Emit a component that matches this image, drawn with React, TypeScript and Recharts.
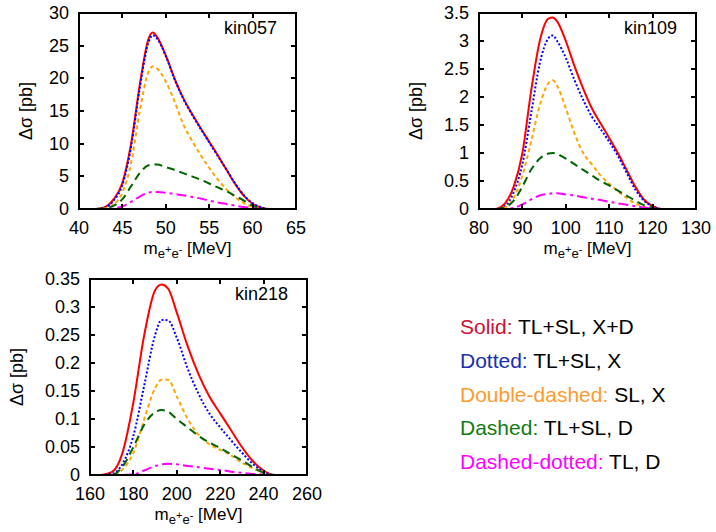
import React from "react";
import { LineChart, Line, XAxis, YAxis } from "recharts";

// kin057
const x057 = [42, 43, 44, 45, 46, 47, 48, 48.5, 49, 50, 51, 52, 53, 54, 55, 56, 57, 58, 59, 60, 61, 62, 63];
const solid057 = [0, 0.3, 1.5, 4, 10, 19, 26, 27, 26.3, 23.5, 20, 17, 14.6, 12.4, 10.3, 8.2, 6, 3.8, 2, 0.8, 0.2, 0, 0];
const dotted057 = [0, 0.25, 1.3, 3.7, 9.5, 18.5, 25.5, 26.6, 26.1, 23.4, 19.9, 16.9, 14.5, 12.3, 10.2, 8.1, 6, 3.9, 2.1, 0.9, 0.25, 0, 0];
const ddash057 = [0, 0.1, 0.7, 2.5, 7, 15, 21, 21.8, 21.5, 19.5, 16.5, 13, 10.5, 8.3, 6.3, 4.5, 3, 1.8, 0.9, 0.3, 0, 0, 0];
const dashed057 = [0, 0.1, 0.5, 1.5, 3.5, 5.5, 6.7, 6.8, 6.8, 6.4, 6, 5.5, 5, 4.5, 3.9, 3.3, 2.7, 2, 1.3, 0.5, 0.1, 0, 0];
const dashdot057 = [0, 0, 0.1, 0.4, 1.1, 1.9, 2.5, 2.6, 2.6, 2.5, 2.3, 2.1, 1.85, 1.6, 1.3, 1.0, 0.75, 0.5, 0.3, 0.15, 0, 0, 0];

// kin109
const x109 = [84, 86, 88, 90, 92, 94, 96, 97, 98, 100, 102, 104, 106, 108, 110, 112, 114, 116, 118, 120, 122, 124, 126];
const solid109 = [0, 0.1, 0.4, 1.0, 2.1, 3.0, 3.4, 3.42, 3.35, 3.0, 2.55, 2.15, 1.8, 1.53, 1.27, 1.0, 0.7, 0.4, 0.17, 0.05, 0, 0, 0];
const dotted109 = [0, 0.05, 0.3, 0.8, 1.7, 2.6, 3.05, 3.1, 3.0, 2.7, 2.3, 1.95, 1.65, 1.43, 1.2, 0.95, 0.65, 0.35, 0.15, 0.05, 0, 0, 0];
const ddash109 = [0, 0.03, 0.2, 0.6, 1.2, 1.85, 2.25, 2.3, 2.2, 1.8, 1.35, 1.0, 0.8, 0.6, 0.45, 0.32, 0.2, 0.1, 0.04, 0, 0, 0, 0];
const dashed109 = [0, 0.03, 0.15, 0.4, 0.7, 0.9, 0.99, 1.0, 0.98, 0.9, 0.8, 0.7, 0.6, 0.5, 0.42, 0.33, 0.24, 0.15, 0.07, 0.02, 0, 0, 0];
const dashdot109 = [0, 0, 0.02, 0.08, 0.17, 0.24, 0.27, 0.28, 0.28, 0.26, 0.24, 0.21, 0.185, 0.16, 0.13, 0.1, 0.075, 0.05, 0.025, 0.01, 0, 0, 0];

// kin218
const x218 = [165, 170, 175, 180, 185, 190, 193, 196, 200, 205, 210, 215, 220, 225, 230, 235, 240, 245, 250];
const solid218 = [0, 0.005, 0.04, 0.13, 0.25, 0.33, 0.34, 0.333, 0.29, 0.23, 0.18, 0.14, 0.11, 0.08, 0.05, 0.025, 0.008, 0, 0];
const dotted218 = [0, 0.002, 0.02, 0.07, 0.16, 0.25, 0.277, 0.276, 0.245, 0.19, 0.145, 0.11, 0.085, 0.062, 0.04, 0.02, 0.006, 0, 0];
const ddash218 = [0, 0, 0.01, 0.04, 0.1, 0.155, 0.17, 0.17, 0.14, 0.1, 0.072, 0.055, 0.045, 0.035, 0.022, 0.012, 0.004, 0, 0];
const dashed218 = [0, 0, 0.015, 0.05, 0.09, 0.112, 0.116, 0.113, 0.1, 0.085, 0.07, 0.058, 0.048, 0.037, 0.026, 0.014, 0.004, 0, 0];
const dashdot218 = [0, 0, 0, 0.001, 0.008, 0.016, 0.019, 0.02, 0.019, 0.016, 0.014, 0.011, 0.009, 0.006, 0.004, 0.002, 0.001, 0, 0];

const xTicks057 = [40, 45, 50, 55, 60, 65];
const yTicks057 = [0, 5, 10, 15, 20, 25, 30];
const xTicks109 = [80, 90, 100, 110, 120, 130];
const yTicks109 = [0, 0.5, 1, 1.5, 2, 2.5, 3, 3.5];
const xTicks218 = [160, 180, 200, 220, 240, 260];
const yTicks218 = [0, 0.05, 0.1, 0.15, 0.2, 0.25, 0.3, 0.35];

const legendItems = [
  { name: "Solid:", rest: "TL+SL, X+D", color: "#cc1133" },
  { name: "Dotted:", rest: "TL+SL, X", color: "#1a2fb0" },
  { name: "Double-dashed:", rest: "SL, X", color: "#ff9a2e" },
  { name: "Dashed:", rest: "TL+SL, D", color: "#137a13" },
  { name: "Dashed-dotted:", rest: "TL, D", color: "#ff00ff" },
];

const FONT = "'Liberation Sans', Arial, sans-serif";
const TL = 5;
const FS = 18;

function buildRows(x: number[], a: number[], b: number[], c: number[], d: number[], e: number[]) {
  return x.map((v, i) => ({ x: v, solid: a[i], dotted: b[i], ddash: c[i], dashed: d[i], dashdot: e[i] }));
}

const LeftTick = (p: any) => (
  <text x={p.x} y={p.y} textAnchor="end" dominantBaseline="central" fontSize={FS} fill="#000" fontFamily={FONT}>
    {p.payload.value}
  </text>
);

const BottomTick = (p: any) => (
  <text x={p.x} y={p.y + 2} dy="0.71em" textAnchor="middle" fontSize={FS} fill="#000" fontFamily={FONT}>
    {p.payload.value}
  </text>
);

interface PanelProps {
  left: number;
  top: number;
  rows: any[];
  xDomain: [number, number];
  xTicks: number[];
  yDomain: [number, number];
  yTicks: number[];
  label: string;
  yTitleX: number;
}

const PW = 217;
const PH = 196;

// gnuplot-style frame with inward ticks on all four sides
function Frame({ xDomain, xTicks, yDomain, yTicks }: { xDomain: [number, number]; xTicks: number[]; yDomain: [number, number]; yTicks: number[] }) {
  const [x0, x1] = xDomain;
  const [y0, y1] = yDomain;
  const px = (v: number) => Math.round(((v - x0) / (x1 - x0)) * PW);
  const py = (v: number) => Math.round(PH - ((v - y0) / (y1 - y0)) * PH);
  return (
    <g>
      {xTicks.filter((t) => t > x0 && t < x1).map((t) => (
        <g key={`x${t}`}>
          <line x1={px(t)} x2={px(t)} y1={PH} y2={PH - TL} stroke="#000" strokeWidth={2} />
          <line x1={px(t)} x2={px(t)} y1={0} y2={TL} stroke="#000" strokeWidth={2} />
        </g>
      ))}
      {yTicks.filter((t) => t > y0 && t < y1).map((t) => (
        <g key={`y${t}`}>
          <line x1={0} x2={TL} y1={py(t)} y2={py(t)} stroke="#000" strokeWidth={2} />
          <line x1={PW} x2={PW - TL} y1={py(t)} y2={py(t)} stroke="#000" strokeWidth={2} />
        </g>
      ))}
      <rect x={0} y={0} width={PW} height={PH} fill="none" stroke="#000" strokeWidth={2} />
    </g>
  );
}

function Panel({ left, top, rows, xDomain, xTicks, yDomain, yTicks, label, yTitleX }: PanelProps) {
  const axisLine = { stroke: "#000", strokeWidth: 2 };
  return (
    <>
      <div style={{ position: "absolute", left: left - 60, top: top - 13 }}>
        <LineChart width={PW + 85} height={PH + 53} data={rows} margin={{ top: 13, right: 25, bottom: 10, left: 0 }}>
          <XAxis dataKey="x" type="number" domain={xDomain} ticks={xTicks} interval={0}
            height={30} tickSize={0} tickMargin={10} tickLine={false} axisLine={axisLine} tick={BottomTick} />
          <YAxis type="number" domain={yDomain} ticks={yTicks} interval={0} width={60}
            tickSize={0} tickMargin={10} tickLine={false} axisLine={axisLine} tick={LeftTick} />
          <Line type="monotone" dataKey="solid" stroke="#ff0000" strokeWidth={2} dot={false} isAnimationActive={false} />
          <Line type="monotone" dataKey="dotted" stroke="#0000ff" strokeWidth={2} strokeDasharray="2 2" dot={false} isAnimationActive={false} />
          <Line type="monotone" dataKey="ddash" stroke="#ffa500" strokeWidth={2} strokeDasharray="4 3" dot={false} isAnimationActive={false} />
          <Line type="monotone" dataKey="dashed" stroke="#006400" strokeWidth={2} strokeDasharray="8 5" dot={false} isAnimationActive={false} />
          <Line type="monotone" dataKey="dashdot" stroke="#ff00ff" strokeWidth={2} strokeDasharray="10 4 3 4" dot={false} isAnimationActive={false} />
        </LineChart>
      </div>
      <svg width={PW} height={PH} style={{ position: "absolute", left, top, overflow: "visible", pointerEvents: "none" }}>
        <Frame xDomain={xDomain} xTicks={xTicks} yDomain={yDomain} yTicks={yTicks} />
      </svg>
      <div style={{ position: "absolute", left: left + PW - 19 - 90, top: top + 5, width: 90, textAlign: "right", fontSize: FS, lineHeight: "20px" }}>
        {label}
      </div>
      <div style={{ position: "absolute", left: yTitleX - 45, top: top + PH / 2 - 11, width: 90, height: 22, lineHeight: "22px",
        textAlign: "center", fontSize: FS, transform: "rotate(-90deg)" }}>
        Δσ [pb]
      </div>
      <div style={{ position: "absolute", left: left + PW / 2 - 80, top: top + PH + 30, width: 160, textAlign: "center", fontSize: 17, lineHeight: "20px" }}>
        m<sub style={{ fontSize: 13 }}>e<sup style={{ fontSize: 11 }}>+</sup>e<sup style={{ fontSize: 11 }}>-</sup></sub> [MeV]
      </div>
    </>
  );
}

export default function App() {
  return (
    <div style={{ position: "absolute", left: 0, top: 0, width: 716, height: 532, background: "#fff", fontFamily: FONT, color: "#000" }}>
      <Panel left={79} top={13} rows={buildRows(x057, solid057, dotted057, ddash057, dashed057, dashdot057)}
        xDomain={[40, 65]} xTicks={xTicks057} yDomain={[0, 30]} yTicks={yTicks057} label="kin057" yTitleX={26} />
      <Panel left={479} top={13} rows={buildRows(x109, solid109, dotted109, ddash109, dashed109, dashdot109)}
        xDomain={[80, 130]} xTicks={xTicks109} yDomain={[0, 3.5]} yTicks={yTicks109} label="kin109" yTitleX={416} />
      <Panel left={90} top={279} rows={buildRows(x218, solid218, dotted218, ddash218, dashed218, dashdot218)}
        xDomain={[160, 260]} xTicks={xTicks218} yDomain={[0, 0.35]} yTicks={yTicks218} label="kin218" yTitleX={17} />
      {legendItems.map((it, i) => (
        <div key={it.name} style={{ position: "absolute", left: 460, top: 314 + i * 33.8, fontSize: 21, lineHeight: "26px", whiteSpace: "nowrap" }}>
          <span style={{ color: it.color }}>{it.name}</span> {it.rest}
        </div>
      ))}
    </div>
  );
}
